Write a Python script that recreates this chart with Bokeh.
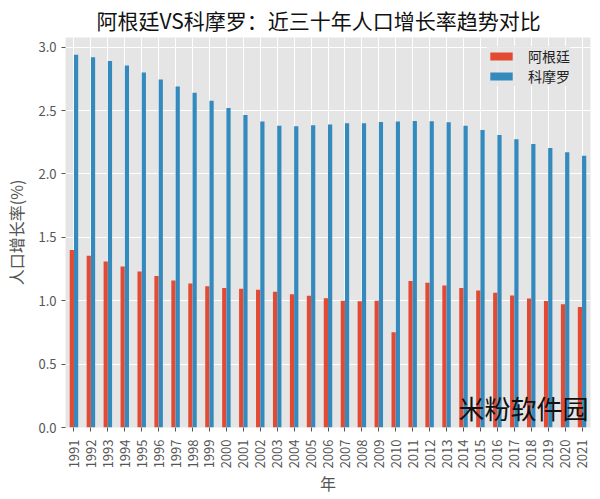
import math
from bokeh.plotting import figure
from bokeh.models import FactorRange, Range1d, FixedTicker, Label, ColumnDataSource, PrintfTickFormatter
from bokeh.transform import dodge
from bokeh.embed import file_html
from bokeh.resources import INLINE

years = ["1991", "1992", "1993", "1994", "1995", "1996", "1997", "1998", "1999", "2000",
         "2001", "2002", "2003", "2004", "2005", "2006", "2007", "2008", "2009", "2010",
         "2011", "2012", "2013", "2014", "2015", "2016", "2017", "2018", "2019", "2020", "2021"]
argentina = [1.40, 1.355, 1.31, 1.27, 1.23, 1.195, 1.16, 1.135, 1.115, 1.10,
             1.095, 1.087, 1.07, 1.05, 1.04, 1.02, 1.00, 0.995, 1.00, 0.752,
             1.155, 1.142, 1.12, 1.10, 1.08, 1.063, 1.042, 1.018, 0.997, 0.973, 0.95]
comoros = [2.94, 2.92, 2.89, 2.855, 2.80, 2.745, 2.69, 2.64, 2.578, 2.52,
           2.465, 2.413, 2.38, 2.376, 2.384, 2.39, 2.40, 2.40, 2.41, 2.413,
           2.418, 2.415, 2.407, 2.38, 2.347, 2.307, 2.273, 2.236, 2.205, 2.17, 2.144]
y_ticks = [0.0, 0.5, 1.0, 1.5, 2.0, 2.5, 3.0]
series_names = ["阿根廷", "科摩罗"]
title_text = "阿根廷VS科摩罗：近三十年人口增长率趋势对比"
x_label = "年"
y_label = "人口增长率(%)"
watermark = "米粉软件园"

FONT = "Noto Sans CJK SC"

src = ColumnDataSource(dict(year=years, arg=argentina, com=comoros))

p = figure(width=596, height=499, output_backend="svg", toolbar_location=None,
           x_range=FactorRange(factors=years, range_padding=0),
           y_range=Range1d(0, 3.076),
           min_border_left=65, min_border_right=6, min_border_top=37, min_border_bottom=72)
p.title.text = title_text
p.title.align = "left"
p.title.offset = 31
p.title.standoff = 5
p.title.text_font = FONT
p.title.text_font_size = "21px"
p.title.text_font_style = "normal"
p.title.text_color = "#111111"

p.background_fill_color = "#E5E5E5"
p.border_fill_color = "white"
p.outline_line_color = None

p.vbar(x=dodge("year", -0.125, range=p.x_range), top="arg", width=0.25, source=src,
       fill_color="#E24A33", line_color=None, legend_label=series_names[0])
p.vbar(x=dodge("year", 0.125, range=p.x_range), top="com", width=0.25, source=src,
       fill_color="#348ABD", line_color=None, legend_label=series_names[1])

for ax in (p.xaxis[0], p.yaxis[0]):
    ax.axis_line_color = None
    ax.major_tick_line_color = "#555555"
    ax.major_tick_out = 4
    ax.major_tick_in = 0
    ax.minor_tick_line_color = None
    ax.major_label_text_color = "#555555"
    ax.major_label_text_font = FONT
    ax.major_label_text_font_size = "13px"
    ax.axis_label_text_font = FONT
    ax.axis_label_text_font_size = "16px"
    ax.axis_label_text_font_style = "normal"
    ax.axis_label_text_color = "#555555"

p.xaxis.major_label_orientation = math.pi / 2
p.xaxis.major_label_standoff = 8
p.xaxis.axis_label = x_label
p.xaxis.axis_label_standoff = 0
p.yaxis.ticker = FixedTicker(ticks=y_ticks)
p.yaxis.formatter = PrintfTickFormatter(format="%.1f")
p.yaxis.major_label_standoff = 5
p.yaxis.axis_label = y_label
p.yaxis.axis_label_standoff = 7

p.xgrid.grid_line_color = "white"
p.ygrid.grid_line_color = "white"
p.xgrid.grid_line_width = 1
p.ygrid.grid_line_width = 1

lg = p.legend[0]
lg.location = (422, 341)
lg.padding = 3
lg.spacing = 0
lg.glyph_width = 28
lg.glyph_height = 10
lg.label_standoff = 13
lg.label_text_font = FONT
lg.label_text_font_size = "14px"
lg.label_text_color = "#222222"
lg.background_fill_color = "#E5E5E5"
lg.background_fill_alpha = 0.8
lg.border_line_color = None

# site watermark: kept fully visible inside the plot frame, bottom right
p.add_layout(Label(x=523, y=2, x_units="screen", y_units="screen", text=watermark,
                   text_align="right", text_baseline="bottom", level="overlay",
                   text_font=FONT, text_font_size="26px", text_color="#111111"))

open("out.html", "w").write(file_html(p, INLINE))
